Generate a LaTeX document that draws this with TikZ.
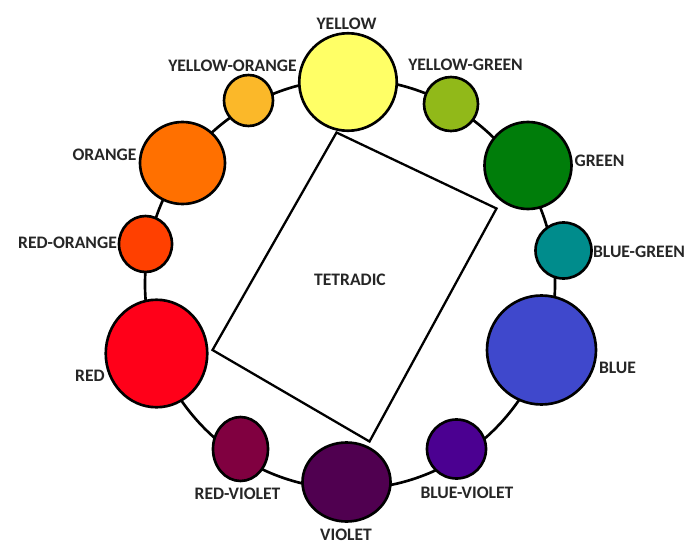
\documentclass[tikz,border=0pt]{standalone}
\usepackage{fontspec}
\setmainfont{Carlito}
\usepackage{xcolor}
\usepackage{tikz}
\usetikzlibrary{shapes.geometric, positioning}

\definecolor{hueYellow}{RGB}{255,255,102}
\definecolor{hueYellowOrange}{RGB}{251,184,41}
\definecolor{hueOrange}{RGB}{255,112,0}
\definecolor{hueRedOrange}{RGB}{255,64,0}
\definecolor{hueRed}{RGB}{255,0,25}
\definecolor{hueRedViolet}{RGB}{128,0,64}
\definecolor{hueViolet}{RGB}{80,0,80}
\definecolor{hueBlueViolet}{RGB}{75,0,145}
\definecolor{hueBlue}{RGB}{63,72,204}
\definecolor{hueBlueGreen}{RGB}{0,140,140}
\definecolor{hueGreen}{RGB}{0,125,10}
\definecolor{hueYellowGreen}{RGB}{145,185,25}

\begin{document}
\begin{tikzpicture}[
    hue/.style={draw, circle, line width=1.5pt, inner sep=0pt},
    oval/.style={draw, ellipse, line width=1.5pt, inner sep=0pt},
    tag/.style={font=\bfseries\fontsize{10}{12}\selectfont, text=black!85, inner sep=0pt}
]
    \useasboundingbox (0,0) rectangle (14,-11.2);
    \coordinate (hub) at (7,-5.68);
    \draw[line width=1.5pt] (hub) circle (4.1);

    \coordinate (qtop) at (6.73,-2.65);
    \coordinate (qright) at (9.93,-4.17);
    \coordinate (qbottom) at (7.39,-8.83);
    \coordinate (qleft) at (4.25,-7.0);
    \draw[line width=1.3pt, line join=miter] (qtop) -- (qright) -- (qbottom) -- (qleft) -- cycle;

    \node[hue, fill=hueYellow, minimum size=1.95cm] (yellow) at (6.96,-1.64) {};
    \node[hue, fill=hueYellowGreen, minimum size=1.08cm] (yellowgreen) at (9.02,-2.08) {};
    \node[hue, fill=hueGreen, minimum size=1.74cm] (green) at (10.56,-3.31) {};
    \node[hue, fill=hueBlueGreen, minimum size=1.12cm] (bluegreen) at (11.27,-5.01) {};
    \node[hue, fill=hueBlue, minimum size=2.18cm] (blue) at (10.83,-7.0) {};
    \node[hue, fill=hueBlueViolet, minimum size=1.18cm] (blueviolet) at (9.13,-8.98) {};
    \node[oval, fill=hueViolet, minimum width=1.76cm, minimum height=1.58cm] (violet) at (6.93,-9.64) {};
    \node[oval, fill=hueRedViolet, minimum width=1.1cm, minimum height=1.28cm] (redviolet) at (4.81,-8.98) {};
    \node[oval, fill=hueRed, minimum width=2.03cm, minimum height=2.15cm] (red) at (3.13,-7.07) {};
    \node[oval, fill=hueRedOrange, minimum width=1.06cm, minimum height=1.12cm] (redorange) at (2.91,-4.88) {};
    \node[oval, fill=hueOrange, minimum width=1.7cm, minimum height=1.64cm] (orange) at (3.65,-3.26) {};
    \node[oval, fill=hueYellowOrange, minimum width=0.98cm, minimum height=1.02cm] (yelloworange) at (4.97,-2.01) {};

    \node[tag] (tag-yellow) at (6.93,-0.48) {YELLOW};
    \node[tag] (tag-yelloworange) at (4.65,-1.32) {YELLOW-ORANGE};
    \node[tag] (tag-yellowgreen) at (9.31,-1.30) {YELLOW-GREEN};
    \node[tag] (tag-orange) at (2.09,-3.10) {ORANGE};
    \node[tag] (tag-green) at (11.99,-3.22) {GREEN};
    \node[tag] (tag-redorange) at (1.35,-4.86) {RED-ORANGE};
    \node[tag] (tag-bluegreen) at (12.78,-5.03) {BLUE-GREEN};
    \node[tag] (tag-tetradic) at (7.0,-5.59) {TETRADIC};
    \node[tag] (tag-red) at (1.80,-7.51) {RED};
    \node[tag] (tag-blue) at (12.35,-7.35) {BLUE};
    \node[tag] (tag-redviolet) at (4.75,-9.87) {RED-VIOLET};
    \node[tag] (tag-blueviolet) at (9.34,-9.85) {BLUE-VIOLET};
    \node[tag] (tag-violet) at (6.92,-10.70) {VIOLET};
\end{tikzpicture}
\end{document}
